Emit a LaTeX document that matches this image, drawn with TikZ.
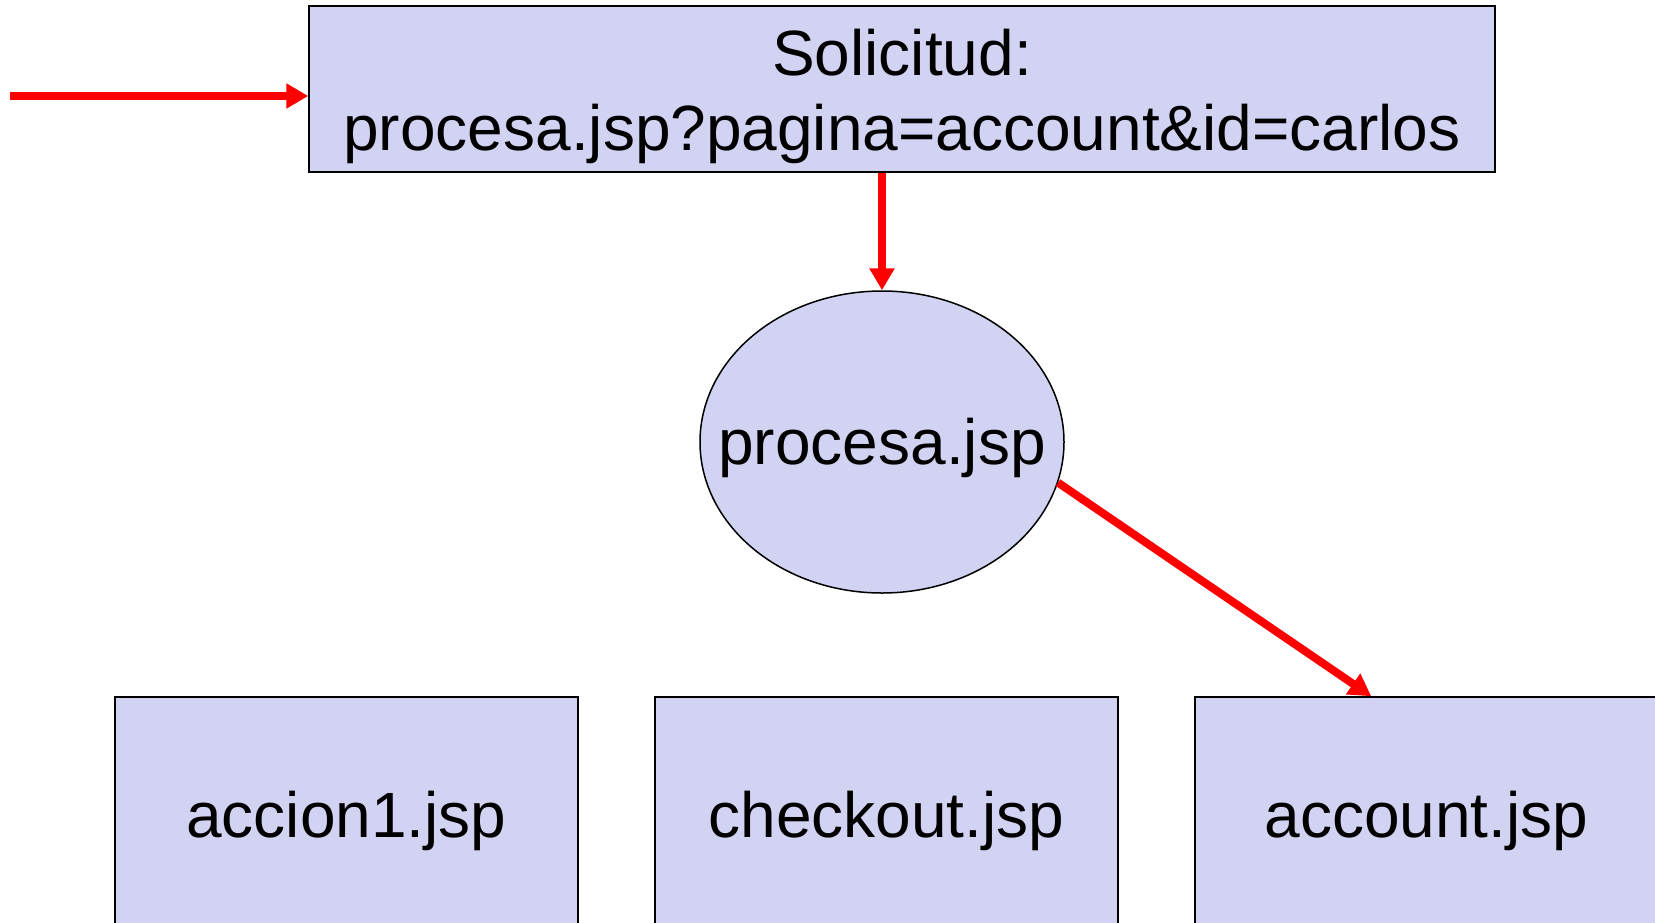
\documentclass[tikz,border=0pt]{standalone}
\usepackage{fontspec}
\setmainfont{Liberation Sans}
\usetikzlibrary{arrows.meta,shapes.geometric,calc}
\definecolor{boxfill}{RGB}{210,210,242}
\definecolor{arrred}{RGB}{255,0,0}
\tikzset{
  box/.style={draw=black, line width=1.5pt, fill=boxfill, rectangle, inner sep=0pt},
  oval/.style={draw=black, line width=1.5pt, fill=boxfill, ellipse, inner sep=0pt},
  txt/.style={inner sep=0pt, align=center, font=\fontsize{64}{75}\selectfont},
  redarrow/.style={draw=arrred, line width=8pt, -{Triangle[length=22pt,width=24pt]}}
}
\begin{document}
\begin{tikzpicture}[x=1pt,y=-1pt]
\clip (0,0) rectangle (1655,922);
\fill[white] (0,0) rectangle (1655,922);
% request box
\node[box, minimum width=1186pt, minimum height=166pt] (req) at (902,89) {};
\node[txt] (reqtxt) at (902,96.5) {Solicitud:\\procesa.jsp?pagina=account\&id=carlos};
% procesa ellipse
\node[oval, minimum width=364pt, minimum height=302pt] (proc) at (882,442) {};
\node[txt] (proctxt) at (882,448) {procesa.jsp};
% bottom boxes
\node[box, minimum width=463pt, minimum height=236pt] (acc1) at (346.5,815) {};
\node[txt] (acc1txt) at (346.5,821) {accion1.jsp};
\node[box, minimum width=463pt, minimum height=236pt] (chk) at (886.5,815) {};
\node[txt] (chktxt) at (886.5,821) {checkout.jsp};
\node[box, minimum width=463pt, minimum height=236pt] (acct) at (1426.5,815) {};
\node[txt] (accttxt) at (1426.5,821) {account.jsp};
% arrows
\coordinate (in) at (10,96);
\draw[redarrow] (in) -- (in -| req.west);
\draw[redarrow] (proc.north |- req.south) -- (proc.north);
\draw[redarrow] (proc.-13) -- ($(acct.north west)+(177,0)$);
\end{tikzpicture}
\end{document}
